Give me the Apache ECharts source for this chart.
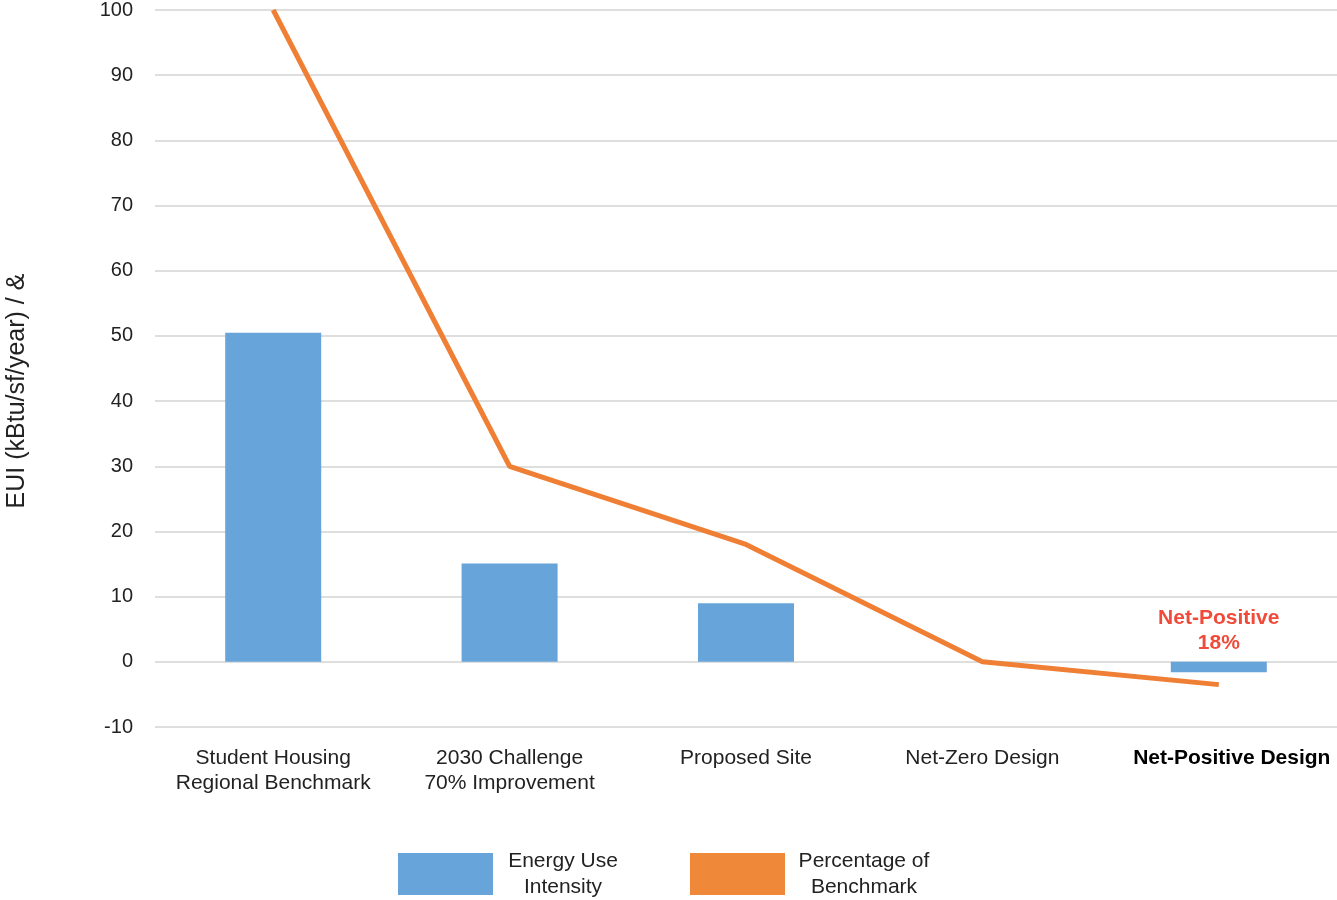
<!DOCTYPE html>
<html>
<head>
<meta charset="utf-8">
<script src="https://cdn.jsdelivr.net/npm/echarts@6/dist/echarts.min.js"></script>
<style>html,body{margin:0;padding:0;background:#fff;}#c{width:1337px;height:900px;}</style>
</head>
<body>
<div id="c"></div>
<script>
const categories = ['Student Housing\nRegional Benchmark', '2030 Challenge\n70% Improvement', 'Proposed Site', 'Net-Zero Design', 'Net-Positive Design'];
const euiValues = [50.5, 15.1, 9.0, 0, -1.6];
const pctValues = [100, 30, 18, 0, -3.5];
const yTicks = { min: -10, max: 100, interval: 10 };
const annotation = { category: 4, value: 4.8, text: 'Net-Positive\n18%' };
const seriesNames = ['Energy Use Intensity', 'Percentage of Benchmark'];

const FONT = 'Liberation Sans, Helvetica, Arial, sans-serif';
const chart = echarts.init(document.getElementById('c'));
chart.setOption({
  animation: false,
  textStyle: { fontFamily: FONT },
  grid: { left: 155, right: -4, top: 10, bottom: 173, containLabel: false },
  legend: {
    left: 398, top: 848, padding: 0,
    itemWidth: 95, itemHeight: 42, itemGap: 62,
    data: [
      { name: seriesNames[0], icon: 'rect' },
      { name: seriesNames[1], icon: 'rect' }
    ],
    formatter: function (n) {
      if (n === seriesNames[0]) return '{a|Energy Use}\n{a|Intensity}';
      return '{b|Percentage of}\n{b|Benchmark}';
    },
    textStyle: {
      fontFamily: FONT, fontSize: 21, color: '#222', lineHeight: 26,
      rich: {
        a: { width: 130, align: 'center', fontSize: 21, lineHeight: 26, color: '#222', fontFamily: FONT },
        b: { width: 148, align: 'center', fontSize: 21, lineHeight: 26, color: '#222', fontFamily: FONT }
      }
    }
  },
  xAxis: {
    type: 'category',
    data: categories,
    axisLine: { show: false },
    axisTick: { show: false },
    axisLabel: {
      margin: 19, fontSize: 21, color: '#222', lineHeight: 25, fontFamily: FONT,
      interval: 0,
      formatter: function (v, i) { return i === 4 ? '{b|' + v + '}' : v; },
      rich: { b: { fontWeight: 'bold', color: '#000', fontSize: 21, fontFamily: FONT, padding: [0, 0, 0, 26] } }
    }
  },
  yAxis: {
    type: 'value',
    min: yTicks.min, max: yTicks.max, interval: yTicks.interval,
    axisLine: { show: false },
    axisTick: { show: false },
    axisLabel: { fontSize: 20, color: '#222', margin: 22, fontFamily: FONT },
    splitLine: { lineStyle: { color: '#DEDEDE', width: 2 } }
  },
  graphic: [{
    type: 'text',
    x: 17, y: 391,
    rotation: Math.PI / 2,
    style: {
      text: 'EUI (kBtu/sf/year) / &',
      fontSize: 25, fill: '#222', fontFamily: FONT,
      align: 'center', verticalAlign: 'middle'
    }
  }],
  series: [
    {
      name: seriesNames[0],
      type: 'bar',
      data: euiValues,
      barWidth: 96,
      itemStyle: { color: '#67A4DA' },
      markPoint: {
        symbol: 'circle', symbolSize: 0,
        data: [{ coord: [annotation.category, annotation.value] }],
        label: {
          show: true, position: 'inside',
          formatter: annotation.text,
          color: '#F04B3A', fontWeight: 'bold', fontSize: 21, lineHeight: 25, fontFamily: FONT
        }
      }
    },
    {
      name: seriesNames[1],
      type: 'line',
      data: pctValues,
      showSymbol: false,
      symbol: 'none',
      itemStyle: { color: '#F0883A' },
      lineStyle: { color: '#EF7F34', width: 5 },
      z: 3
    }
  ]
});
</script>
</body>
</html>
